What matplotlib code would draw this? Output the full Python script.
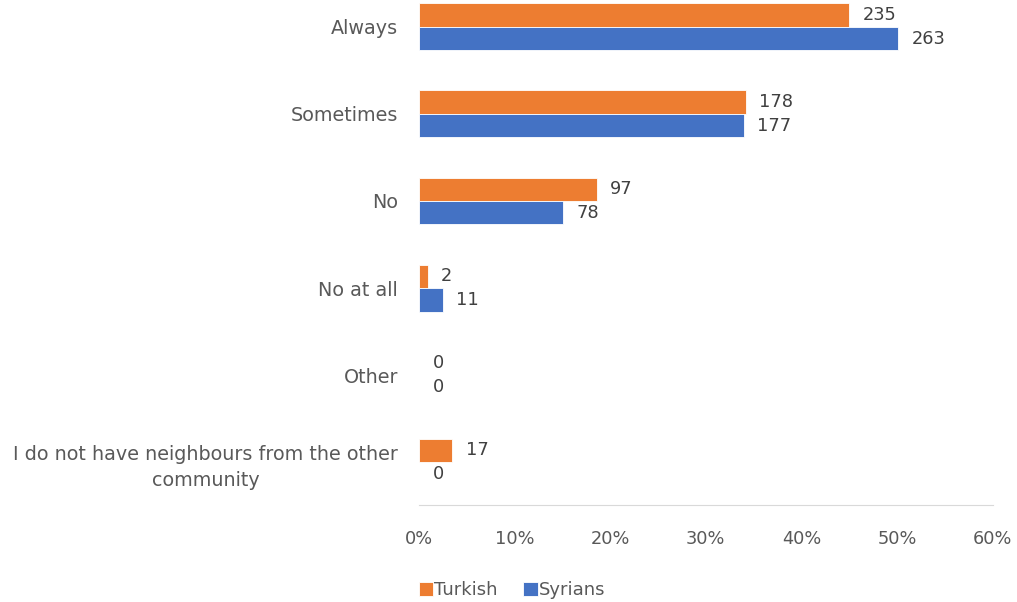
import numpy as np
import matplotlib
matplotlib.use("Agg")
import matplotlib.pyplot as plt

plt.rcParams['font.family'] = ['DejaVu Sans']

categories = ['Always', 'Sometimes', 'No', 'No at all', 'Other',
              'I do not have neighbours from the other\ncommunity']
turkish_n = [235, 178, 97, 2, 0, 17]
syrian_n = [263, 177, 78, 11, 0, 0]
# bar lengths in percent
turkish_pct = [45.0, 34.2, 18.6, 0.9, 0.0, 3.5]
syrian_pct = [50.1, 34.0, 15.1, 2.5, 0.0, 0.0]
xticks = [0, 10, 20, 30, 40, 50, 60]

orange = '#ED7D31'
blue = '#4472C4'
grey = '#595959'
fs = 12.8

fig = plt.figure(figsize=(10.17, 6.02), dpi=100)
ax = fig.add_axes([0.412, 0.1611, 0.564, 0.8389])

y = np.arange(len(categories))
h = 0.27
ax.barh(y - h / 2, turkish_pct, height=h, color=orange, edgecolor='white', linewidth=0.6, label='Turkish')
ax.barh(y + h / 2, syrian_pct, height=h, color=blue, edgecolor='white', linewidth=0.6, label='Syrians')

for i in range(len(categories)):
    ax.text(turkish_pct[i] + 1.4, y[i] - h / 2, str(turkish_n[i]), va='center', ha='left',
            fontsize=fs, color='#404040')
    ax.text(syrian_pct[i] + 1.4, y[i] + h / 2, str(syrian_n[i]), va='center', ha='left',
            fontsize=fs, color='#404040')

ax.set_xlim(0, 60)
ax.set_ylim(5.494, -0.31)
ax.set_yticks(y)
ax.set_yticklabels(categories, fontsize=13.8, color=grey, multialignment='center', linespacing=1.45)
ax.set_xticks(xticks)
ax.set_xticklabels([f'{t}%' for t in xticks], fontsize=fs, color=grey)
ax.tick_params(axis='both', length=0)
ax.tick_params(axis='y', pad=15)
ax.tick_params(axis='x', pad=18)

for s in ['top', 'right', 'left']:
    ax.spines[s].set_visible(False)
ax.spines['bottom'].set_color('#D9D9D9')
ax.spines['bottom'].set_linestyle((0, (2, 1)))
ax.spines['bottom'].set_linewidth(0.8)

fig.legend(loc='lower left', bbox_to_anchor=(0.396, -0.022), ncol=2, frameon=False,
           fontsize=13, handlelength=0.8, handleheight=0.8, handletextpad=0.05,
           columnspacing=1.4, labelcolor=grey)

fig.savefig('out.png', dpi=100)
